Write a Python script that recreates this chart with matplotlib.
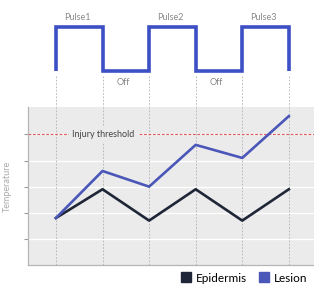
import numpy as np
import matplotlib
matplotlib.use('Agg')
import matplotlib.pyplot as plt
from matplotlib.lines import Line2D

plt.rcParams['font.family'] = ['Lato', 'DejaVu Sans']

# data
stages = [0, 1, 2, 3, 4, 5]
pulse_state = [1, 0, 1, 0, 1]
pulse_labels = ['Pulse1', 'Off', 'Pulse2', 'Off', 'Pulse3']
epidermis = [1.8, 2.9, 1.7, 2.9, 1.7, 2.9]
lesion = [1.8, 3.6, 3.0, 4.6, 4.1, 5.7]
threshold = 5.0
y_grid = [1, 2, 3, 4, 5]

pulse_blue = '#3d4fc4'
lesion_blue = '#4a56b8'
epi_dark = '#1e2637'
dash_gray = '#b0b0b0'

fig = plt.figure(figsize=(3.14, 2.85), dpi=100)
xlim = (-0.60, 5.54)

# temperature panel
ax = fig.add_axes([28 / 314, 20 / 285, 1 - 28 / 314, 158 / 285])
ax.set_facecolor('#ebebeb')
ax.set_xlim(*xlim)
ax.set_ylim(0, 6.05)
for g in y_grid:
    ax.axhline(g, color='white', lw=1.0, zorder=1)
for s in stages:
    ax.axvline(s, color=dash_gray, lw=0.6, ls=(0, (2, 2)), zorder=2)
ax.axhline(threshold, color='#e05a5a', lw=0.8, ls=(0, (2.5, 1.5)), zorder=2)
ax.text(0.35, threshold, 'Injury threshold', fontsize=6.5, color='#444444',
        va='center', ha='left', zorder=3,
        bbox=dict(facecolor='#ebebeb', edgecolor='none', pad=2.5))
ax.plot(stages, epidermis, color=epi_dark, lw=1.9, zorder=4)
ax.plot(stages, lesion, color=lesion_blue, lw=1.9, zorder=5)
ax.set_xticks([])
ax.set_yticks(y_grid)
ax.set_yticklabels([])
ax.tick_params(axis='y', length=3, color='#999999', width=0.8)
for sp in ['top', 'right']:
    ax.spines[sp].set_visible(False)
for sp in ['left', 'bottom']:
    ax.spines[sp].set_color('#b5b5b5')
    ax.spines[sp].set_linewidth(0.9)
ax.set_ylabel('Temperature', fontsize=6.5, color='#aaaaaa', labelpad=5)

# pulse panel
ax2 = fig.add_axes([28 / 314, 178 / 285, 1 - 28 / 314, 107 / 285])
ax2.set_xlim(*xlim)
ax2.set_ylim(-0.818, 1.614)
ax2.axis('off')
ax2.stairs(pulse_state, edges=stages, baseline=0, color=pulse_blue, lw=2.6)
for s in stages:
    ax2.plot([s, s], [-0.12, -0.818], color=dash_gray, lw=0.6, ls=(0, (2, 2)))
for i, lab in enumerate(pulse_labels):
    yv = 1.22 if pulse_state[i] else -0.25
    ax2.text(stages[i] + 0.45, yv, lab, fontsize=6.5, color='#888888',
             ha='center', va='center')

handles = [Line2D([], [], marker='s', ls='none', color=epi_dark, markersize=7),
           Line2D([], [], marker='s', ls='none', color=lesion_blue, markersize=7)]
fig.legend(handles, ['Epidermis', 'Lesion'], loc='center right', ncol=2,
           frameon=False, fontsize=8.5, handletextpad=0.3, columnspacing=1.0,
           handlelength=1.0, bbox_to_anchor=(312 / 314, 7 / 285), borderaxespad=0)

fig.savefig('out.png', dpi=100)
